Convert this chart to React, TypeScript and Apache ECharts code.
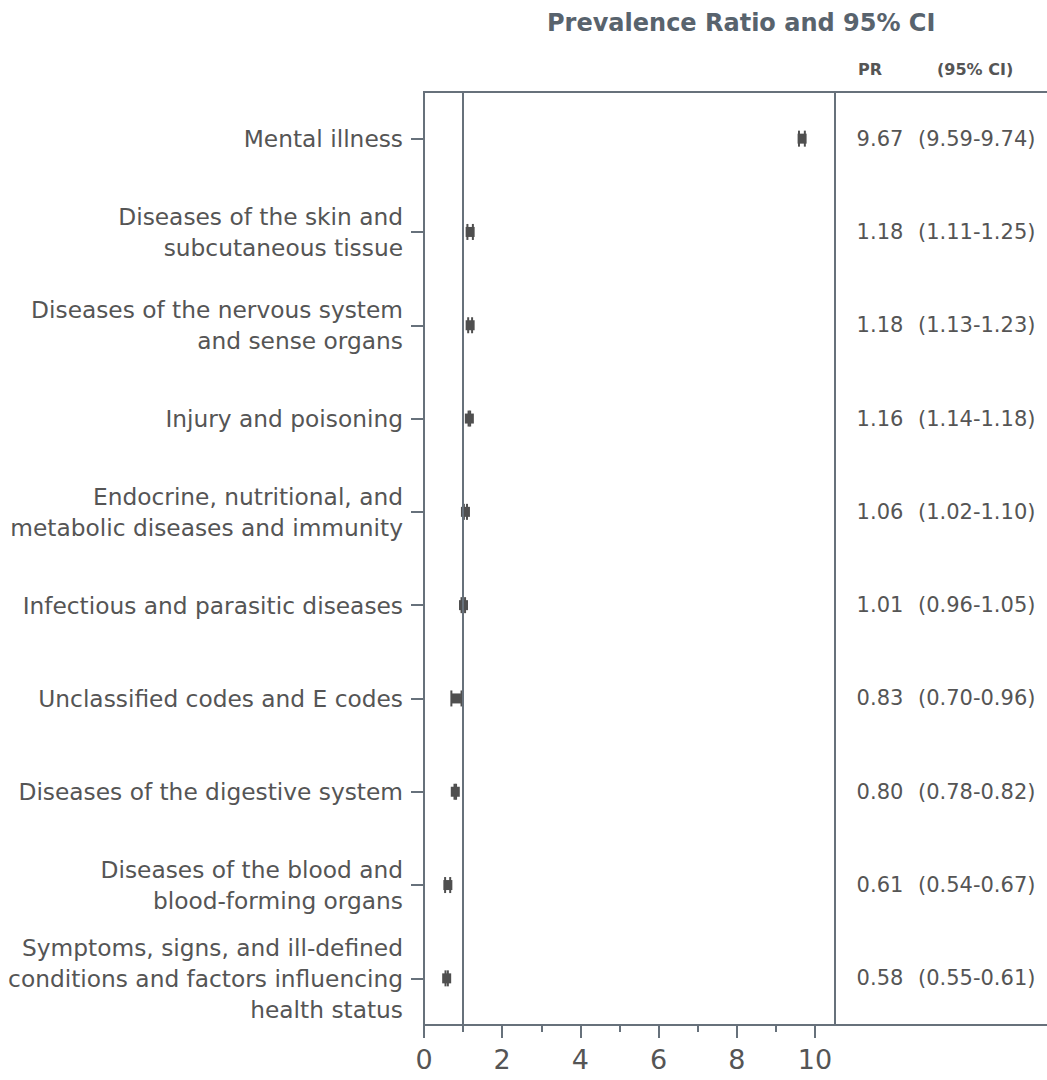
import React, { useEffect, useRef } from "react";
import * as echarts from "echarts";

const categories: string[] = [
  "Mental illness",
  "Diseases of the skin and\nsubcutaneous tissue",
  "Diseases of the nervous system\nand sense organs",
  "Injury and poisoning",
  "Endocrine, nutritional, and\nmetabolic diseases and immunity",
  "Infectious and parasitic diseases",
  "Unclassified codes and E codes",
  "Diseases of the digestive system",
  "Diseases of the blood and\nblood-forming organs",
  "Symptoms, signs, and ill-defined\nconditions and factors influencing\nhealth status",
];
const prValues: number[] = [9.67, 1.18, 1.18, 1.16, 1.06, 1.01, 0.83, 0.8, 0.61, 0.58];
const ciLow: number[] = [9.59, 1.11, 1.13, 1.14, 1.02, 0.96, 0.7, 0.78, 0.54, 0.55];
const ciHigh: number[] = [9.74, 1.25, 1.23, 1.18, 1.1, 1.05, 0.96, 0.82, 0.67, 0.61];
const xTicks: number[] = [0, 2, 4, 6, 8, 10];

const AXIS = "#67717b";
const TEXT = "#555555";
const MARK = "#4f4f4f";
const FONT = "DejaVu Sans";

const fmt = (v: number) => v.toFixed(2);

export default function App() {
  const ref = useRef<HTMLDivElement>(null);
  useEffect(() => {
    if (!ref.current) return;
    const chart = echarts.init(ref.current, null, { renderer: "svg" });
    const data = prValues.map((p, i) => [p, i, ciLow[i], ciHigh[i]]);
    const option: any = {
      animation: false,
      textStyle: { fontFamily: FONT },
      title: {
        text: "Prevalence Ratio and 95% CI",
        left: 542,
        top: 6,
        textStyle: { fontFamily: FONT, fontSize: 24, fontWeight: "bold", color: "#58636d" },
      },
      grid: { left: 424, right: 1047 - 815, top: 92, bottom: 1080 - 1025 },
      xAxis: {
        type: "value",
        min: 0,
        max: xTicks[xTicks.length - 1],
        interval: 2,
        axisLine: { show: true, lineStyle: { color: AXIS, width: 2 } },
        axisTick: { show: true, length: 13, lineStyle: { color: AXIS, width: 2 } },
        minorTick: { show: true, splitNumber: 2, length: 7, lineStyle: { color: AXIS, width: 2 } },
        splitLine: { show: false },
        axisLabel: { fontSize: 27, color: "#555", margin: 21, fontFamily: FONT },
      },
      yAxis: [
        {
          type: "category",
          data: categories,
          inverse: true,
          axisLine: { show: true, lineStyle: { color: AXIS, width: 2 } },
          axisTick: { show: true, alignWithLabel: true, length: 13, lineStyle: { color: AXIS, width: 2 } },
          axisLabel: {
            fontSize: 23.3,
            color: TEXT,
            margin: 21,
            lineHeight: 31,
            align: "right",
            fontFamily: FONT,
          },
        },
        {
          type: "category",
          data: categories,
          inverse: true,
          position: "right",
          axisLine: { show: false },
          axisTick: { show: false },
          axisLabel: {
            margin: 27,
            formatter: (_v: string, i: number) => `{a|${fmt(prValues[i])}}{b|(${fmt(ciLow[i])}-${fmt(ciHigh[i])})}`,
            rich: {
              a: { width: 76, align: "right", fontSize: 21, color: TEXT, fontFamily: FONT },
              b: { padding: [0, 0, 0, 0], fontSize: 21, color: TEXT, fontFamily: FONT },
            },
          },
        },
      ],
      graphic: [
        { type: "line", shape: { x1: 423, y1: 92, x2: 1047, y2: 92 }, style: { stroke: AXIS, lineWidth: 2 } },
        { type: "line", shape: { x1: 815, y1: 1025, x2: 1047, y2: 1025 }, style: { stroke: AXIS, lineWidth: 2 } },
        { type: "line", shape: { x1: 835, y1: 92, x2: 835, y2: 1025 }, style: { stroke: AXIS, lineWidth: 2 } },
        {
          type: "text",
          left: 858,
          top: 61,
          style: { text: "PR", fontSize: 16, fontWeight: "bold", fill: TEXT, fontFamily: FONT },
        },
        {
          type: "text",
          left: 937,
          top: 61,
          style: { text: "(95% CI)", fontSize: 16, fontWeight: "bold", fill: TEXT, fontFamily: FONT },
        },
      ],
      series: [
        {
          type: "custom",
          encode: { x: [0, 2, 3], y: 1 },
          data,
          renderItem: (_params: any, api: any) => {
            const c = api.coord([api.value(0), api.value(1)]);
            const lo = api.coord([api.value(2), api.value(1)])[0];
            const hi = api.coord([api.value(3), api.value(1)])[0];
            const y = c[1];
            return {
              type: "group",
              children: [
                { type: "line", shape: { x1: lo, y1: y, x2: hi, y2: y }, style: { stroke: MARK, lineWidth: 3 } },
                { type: "line", shape: { x1: lo, y1: y - 8, x2: lo, y2: y + 8 }, style: { stroke: MARK, lineWidth: 2 } },
                { type: "line", shape: { x1: hi, y1: y - 8, x2: hi, y2: y + 8 }, style: { stroke: MARK, lineWidth: 2 } },
                { type: "rect", shape: { x: c[0] - 4.5, y: y - 5, width: 9, height: 10 }, style: { fill: MARK } },
              ],
            };
          },
          markLine: {
            silent: true,
            symbol: "none",
            label: { show: false },
            lineStyle: { color: AXIS, width: 2, type: "solid" },
            data: [{ xAxis: 1 }],
          },
          z: 3,
        },
      ],
    };
    chart.setOption(option);
    return () => chart.dispose();
  }, []);
  return (
    <div
      ref={ref}
      style={{ position: "absolute", left: 0, top: 0, width: 1047, height: 1080, background: "#fff" }}
    />
  );
}
